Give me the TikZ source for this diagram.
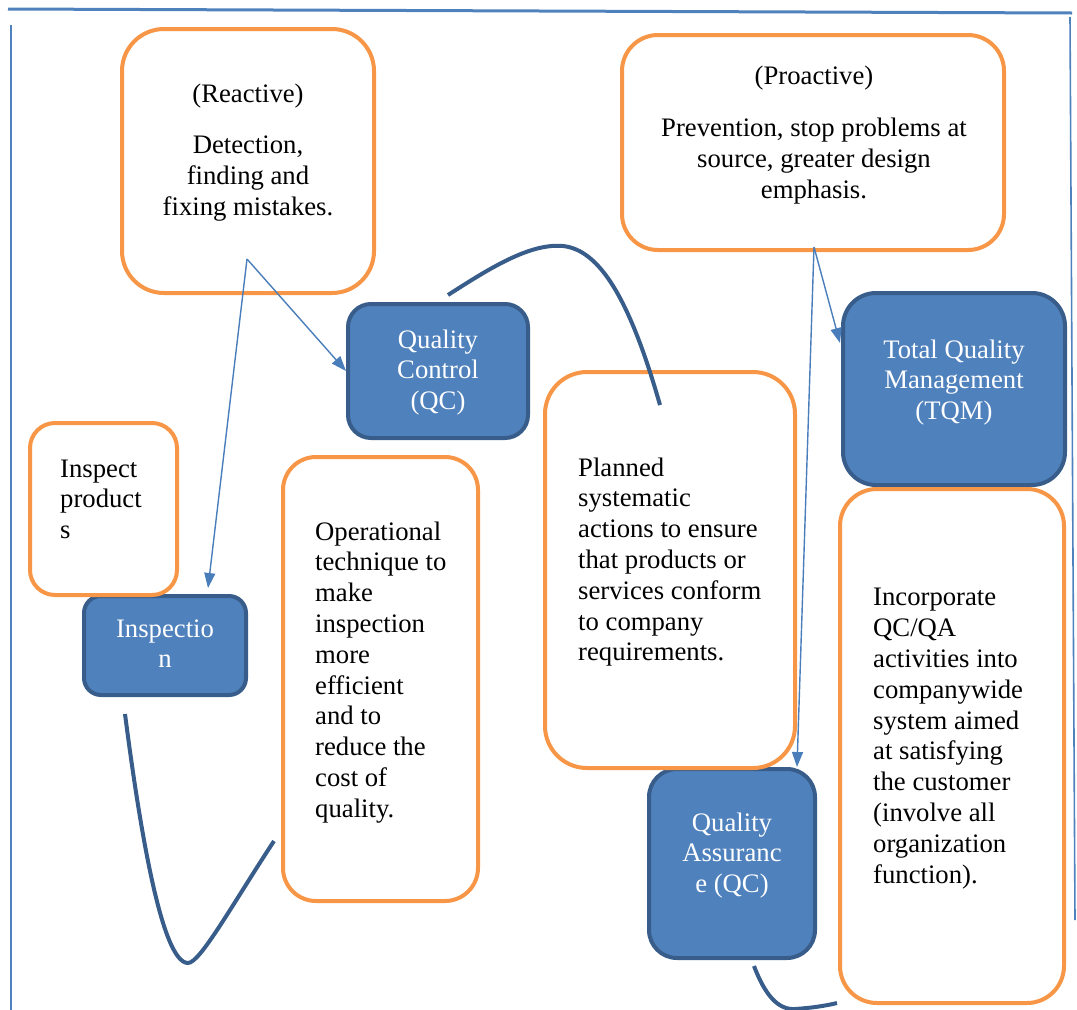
\documentclass[tikz,border=0pt]{standalone}
\usepackage{fontspec}
\setmainfont{Liberation Serif}
\usetikzlibrary{arrows.meta}
\definecolor{boxorange}{HTML}{F79646}
\definecolor{boxblue}{HTML}{4F81BD}
\definecolor{boxedge}{HTML}{385D8A}
\definecolor{linkblue}{HTML}{4A7EBB}
\begin{document}
\begin{tikzpicture}[x=1pt,y=-1pt,
  stagebox/.style={draw=boxedge, fill=boxblue, line width=4pt, inner sep=0pt},
  notebox/.style={draw=boxorange, fill=white, line width=4pt, inner sep=0pt},
  txt/.style={font=\fontsize{26.7}{30.8}\selectfont, inner sep=0pt, anchor=base},
  ltxt/.style={txt, align=left},
  ctxt/.style={txt, align=center},
  wtxt/.style={txt, align=center, text=white},
  link/.style={draw=linkblue, line width=1.4pt, -{Triangle[length=15pt,width=11pt]}},
  swoosh/.style={draw=boxedge, line width=4pt},
  framerule/.style={draw=boxblue, line width=2pt}]
\useasboundingbox (0,0) rectangle (1077,1010);

% page frame
\coordinate (frameTL) at (8,9);
\coordinate (frameTR) at (1072,13);
\draw[framerule, line width=3pt] (frameTL) -- (frameTR);
\draw[framerule] (11,25) -- (11,1010);
\draw[framerule, line width=1.6pt] (1070,17) -- (1075,920);

% blue stage boxes
\node[stagebox, minimum width=180pt, minimum height=134pt, rounded corners=23pt] (qc) at (438,371) {};
\node[stagebox, minimum width=222pt, minimum height=192pt, rounded corners=33pt] (tqm) at (954,389) {};
\node[stagebox, minimum width=162pt, minimum height=99pt, rounded corners=17pt] (insp) at (165,645.5) {};
\node[stagebox, minimum width=166pt, minimum height=189pt, rounded corners=28pt] (qa) at (732,863.5) {};

% orange description boxes
\node[notebox, minimum width=252pt, minimum height=264pt, rounded corners=42pt] (reactive) at (248,161) {};
\node[notebox, minimum width=382pt, minimum height=215pt, rounded corners=36pt] (proactive) at (813,142.5) {};
\node[notebox, minimum width=147pt, minimum height=172pt, rounded corners=25pt] (inspnote) at (103.5,509) {};
\node[notebox, minimum width=195pt, minimum height=444pt, rounded corners=33pt] (qcnote) at (380.5,679) {};
\node[notebox, minimum width=250pt, minimum height=396pt, rounded corners=42pt] (qanote) at (670,570) {};
\node[notebox, minimum width=224pt, minimum height=514pt, rounded corners=37pt] (tqmnote) at (952,746) {};

% texts (each node is placed by the baseline of its last line)
\node[ctxt] (reactive-text) at (248,215) {(Reactive)\\[20pt]Detection,\\finding and\\fixing mistakes.};
\node[ctxt] (proactive-text) at (814,198) {(Proactive)\\[21pt]Prevention, stop problems at\\source, greater design\\emphasis.};
\node[wtxt] (qc-text) at (438,409.6) {Quality\\Control\\(QC)};
\node[wtxt] (tqm-text) at (954,419.6) {Total Quality\\Management\\(TQM)};
\node[wtxt] (insp-text) at (165,667.8) {Inspectio\\n};
\node[wtxt] (qa-text) at (732,892.6) {Quality\\Assuranc\\e (QC)};
\node[ltxt, anchor=base west] (inspnote-text) at (60,538.6) {Inspect\\product\\s};
\node[ltxt, anchor=base west] (qcnote-text) at (315,817.2) {Operational\\technique to\\make\\inspection\\more\\efficient\\and to\\reduce the\\cost of\\quality.};
\node[ltxt, anchor=base west] (qanote-text) at (578,660.8) {Planned\\systematic\\actions to ensure\\that products or\\services conform\\to company\\requirements.};
\node[ltxt, anchor=base west] (tqmnote-text) at (873,883) {Incorporate\\QC/QA\\activities into\\companywide\\system aimed\\at satisfying\\the customer\\(involve all\\organization\\function).};

% pointer arrows from the two approach boxes
\coordinate (reactFoot) at (247,259);
\coordinate (proFoot) at (814,247);
\coordinate (inspIn) at (208,588);
\coordinate (tqmIn) at (840,343);
\coordinate (qaIn) at (797,767);
\draw[link] (reactFoot) -- (qc.west);
\draw[link] (reactFoot) -- (inspIn);
\draw[link] (proFoot) -- (tqmIn);
\draw[link] (proFoot) -- (qaIn);

% swoosh curves linking the stages
\coordinate (inspTail) at (125,714);
\coordinate (qcnoteTail) at (274,841);
\coordinate (qcTail) at (448,295);
\coordinate (qanoteTail) at (660,405);
\coordinate (qaTail) at (754,966);
\coordinate (tqmnoteTail) at (837,1003);
\draw[swoosh] (inspTail) .. controls (140,830) and (162,963) .. (188,963)
  .. controls (200,963) and (232,905) .. (qcnoteTail);
\draw[swoosh] (qcTail) .. controls (490,268) and (530,243) .. (563,246)
  .. controls (600,250) and (630,300) .. (qanoteTail);
\draw[swoosh] (qaTail) .. controls (765,995) and (778,1010) .. (795,1009)
  .. controls (810,1008) and (825,1006) .. (tqmnoteTail);
\end{tikzpicture}
\end{document}
